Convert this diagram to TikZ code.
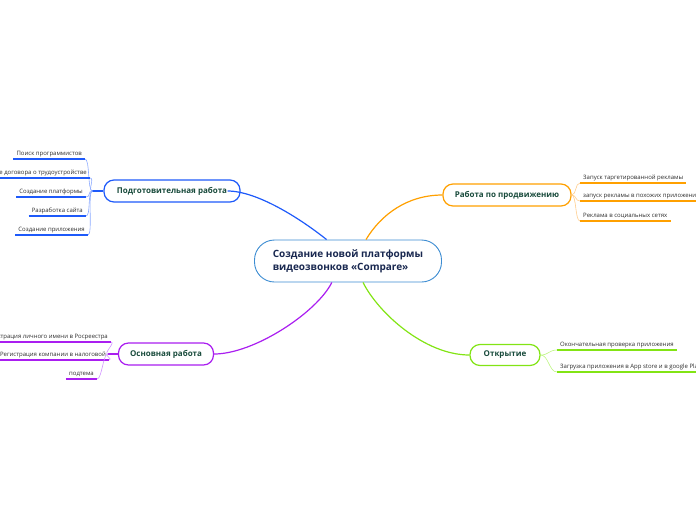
\documentclass[tikz,border=0pt]{standalone}
\usepackage{fontspec}
\setmainfont{Open Sans}
\usepackage{tikz}
\usetikzlibrary{positioning,calc}

\definecolor{rootline}{RGB}{60,140,210}
\definecolor{roottext}{RGB}{25,40,80}
\definecolor{topictext}{RGB}{25,75,60}
\definecolor{leaftext}{RGB}{45,45,45}
\definecolor{prepblue}{RGB}{30,90,250}
\definecolor{preplight}{RGB}{140,170,255}
\definecolor{mainpurple}{RGB}{170,30,240}
\definecolor{mainlight}{RGB}{210,150,255}
\definecolor{promoorange}{RGB}{255,160,0}
\definecolor{promolight}{RGB}{255,205,140}
\definecolor{opengreen}{RGB}{130,228,20}
\definecolor{openlight}{RGB}{190,245,130}

\begin{document}
\begin{tikzpicture}[
  x=1pt, y=-1pt,
  font=\fontsize{6}{7}\selectfont,
  central/.style={draw=rootline, line width=0.9pt, fill=white, rounded corners=20pt,
                  minimum width=187pt, minimum height=42pt, align=left,
                  text=roottext, font=\fontsize{10}{13}\selectfont\bfseries},
  topic/.style={rounded corners=10pt, line width=1.2pt, fill=white, inner sep=0pt,
                minimum height=22pt, text=topictext,
                font=\fontsize{8}{10}\selectfont\bfseries},
  leaf/.style={inner xsep=3pt, inner ysep=2pt, text depth=1pt, text=leaftext},
  branch/.style={line width=1.2pt},
  twig/.style={line width=0.6pt},
  uline/.style={line width=1.6pt},
]
\useasboundingbox (0,0) rectangle (696,520);
\clip (0,0) rectangle (696,520);

% ---------- central topic ----------
\node[central] (root) at (348,261) {Создание новой платформы\\видеозвонков «Compare»};

% ---------- main topics ----------
\node[topic, draw=prepblue,    minimum width=136pt] (prep)  at (172,191) {Подготовительная работа};
\node[topic, draw=mainpurple,  minimum width=95pt]  (main)  at (166,354) {Основная работа};
\node[topic, draw=promoorange, minimum width=128pt] (promo) at (507,195) {Работа по продвижению};
\node[topic, draw=opengreen,   minimum width=70pt, minimum height=21pt] (open) at (505,355) {Открытие};

% ---------- subtopics ----------
\node[leaf, anchor=south east] (p1) at (85,159)  {Поиск программистов};
\node[leaf, anchor=south east] (p2) at (90,178)  {Заключение договора о трудоустройстве};
\node[leaf, anchor=south east] (p3) at (86,197)  {Создание платформы};
\node[leaf, anchor=south east] (p4) at (86,216)  {Разработка сайта};
\node[leaf, anchor=south east] (p5) at (88,235)  {Создание приложения};

\node[leaf, anchor=south east] (m1) at (111,342) {Регистрация личного имени в Росреестра};
\node[leaf, anchor=south east] (m2) at (109,360) {Регистрация компании в налоговой};
\node[leaf, anchor=south east] (m3) at (97,379)  {подтема};

\node[leaf, anchor=south west] (r1) at (580,183) {Запуск таргетированной рекламы};
\node[leaf, anchor=south west] (r2) at (580,201) {запуск рекламы в похожих приложениях};
\node[leaf, anchor=south west] (r3) at (580,221) {Реклама в социальных сетях};

\node[leaf, anchor=south west] (o1) at (557,350) {Окончательная проверка приложения};
\node[leaf, anchor=south west] (o2) at (557,372) {Загрузка приложения в App store и в google Play};

% ---------- branches ----------
\draw[branch, prepblue] (root.135) .. controls +(-25,-20) and +(30,0) .. ([xshift=-13pt]prep.east);
\draw[branch, promoorange] (root.50) .. controls +(15,-25) and +(-35,0) .. (promo.west);
\draw[branch, mainpurple] (root.233) .. controls +(-15,30) and +(40,0) .. (main.east);
\draw[branch, opengreen] (root.305) .. controls +(15,30) and +(-45,0) .. (open.west);

% ---------- twigs ----------
\coordinate[left=11pt of prep] (pj);
\coordinate[left=10pt of main] (mj);
\draw[branch, prepblue] (prep.west) -- (pj);
\draw[branch, mainpurple] (main.west) -- (mj);

\foreach \l in {p1,p2,p3,p4,p5} {
  \draw[twig, preplight] (pj) .. controls +(-5,0) and +(5,0) .. (\l.south east);
  \draw[uline, prepblue] (\l.south west) -- (\l.south east);
}
\foreach \l in {m1,m2,m3} {
  \draw[twig, mainlight] (mj) .. controls +(-5,0) and +(5,0) .. (\l.south east);
  \draw[uline, mainpurple] (\l.south west) -- (\l.south east);
}
\foreach \l in {r1,r2,r3} {
  \draw[twig, promolight] (promo.east) .. controls +(5,0) and +(-5,0) .. (\l.south west);
  \draw[uline, promoorange] (\l.south west) -- (\l.south east);
}
\foreach \l in {o1,o2} {
  \draw[twig, openlight] (open.east) .. controls +(8,0) and +(-8,0) .. (\l.south west);
  \draw[uline, opengreen] (\l.south west) -- (\l.south east);
}

\end{tikzpicture}
\end{document}
